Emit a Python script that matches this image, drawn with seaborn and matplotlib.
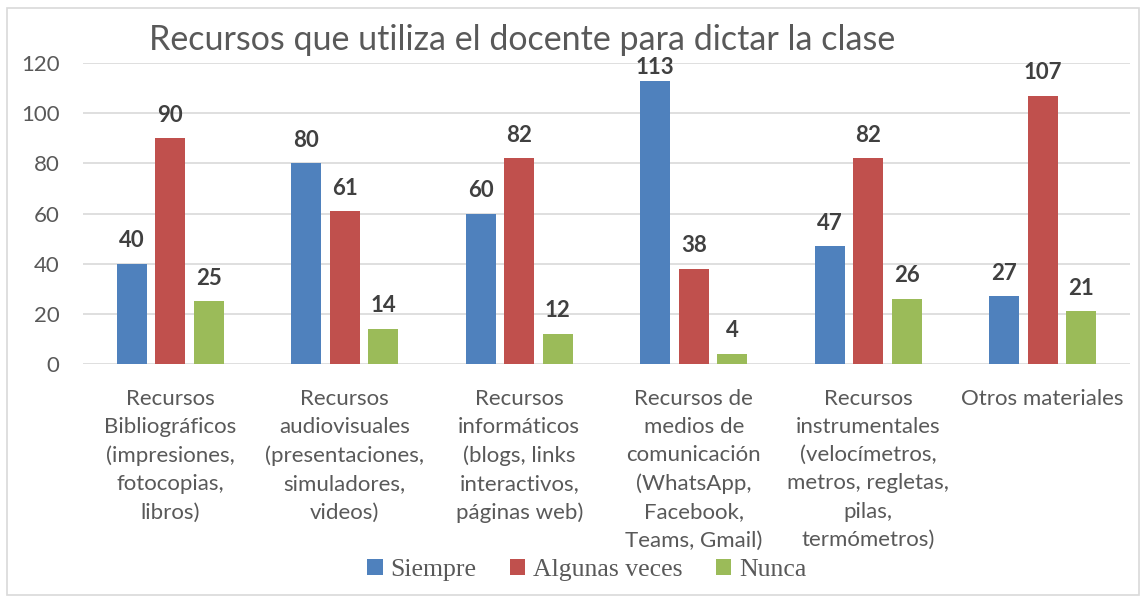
import pandas as pd
import matplotlib.pyplot as plt
import seaborn as sns
from matplotlib.patches import Rectangle

categorias = [
    "Recursos\nBibliográficos\n(impresiones,\nfotocopias,\nlibros)",
    "Recursos\naudiovisuales\n(presentaciones,\nsimuladores,\nvideos)",
    "Recursos\ninformáticos\n(blogs, links\ninteractivos,\npáginas web)",
    "Recursos de\nmedios de\ncomunicación\n(WhatsApp,\nFacebook,\nTeams, Gmail)",
    "Recursos\ninstrumentales\n(velocímetros,\nmetros, regletas,\npilas,\ntermómetros)",
    "Otros materiales",
]
series = ["Siempre", "Algunas veces", "Nunca"]
siempre = [40, 80, 60, 113, 47, 27]
algunas_veces = [90, 61, 82, 38, 82, 107]
nunca = [25, 14, 12, 4, 26, 21]
y_ticks = [0, 20, 40, 60, 80, 100, 120]

colores = ["#4F81BD", "#C0504D", "#9BBB59"]

df = pd.DataFrame({
    "categoria": categorias * 3,
    "serie": [series[0]] * 6 + [series[1]] * 6 + [series[2]] * 6,
    "valor": siempre + algunas_veces + nunca,
})

sns.set_theme(style="white")
plt.rcParams["font.family"] = ["Lato", "DejaVu Sans"]

fig = plt.figure(figsize=(11.46, 5.99), dpi=100)
ax = fig.add_axes([0.0724, 0.3923, 0.9136, 0.5025])

sns.barplot(data=df, x="categoria", y="valor", hue="serie", palette=colores,
            width=0.664, gap=0.22, ax=ax, saturation=1, edgecolor="none")

# etiquetas de valor encima de cada barra
for cont in ax.containers:
    textos = ax.bar_label(cont, padding=9, fontsize=16, fontweight="bold", color="#404040")
    for t, bar in zip(textos, cont):
        if bar.get_height() > 110:  # como en Excel, no sale del area del grafico
            t.xyann = (0, 2)

ax.set_ylim(0, 120)
ax.set_yticks(y_ticks)
ax.yaxis.grid(True, color="#D9D9D9", linewidth=1.2)
ax.set_axisbelow(True)
for s in ax.spines.values():
    s.set_visible(False)
ax.tick_params(axis="y", length=0, labelsize=16, labelcolor="#595959", pad=17)
ax.tick_params(axis="x", length=0, labelsize=16, labelcolor="#595959", pad=18)
ax.set_xlabel("")
ax.set_ylabel("")
for lbl in ax.get_xticklabels():
    lbl.set_linespacing(1.51)

handles, labels = ax.get_legend_handles_labels()
ax.get_legend().remove()
fig.legend(handles, labels, loc="center", bbox_to_anchor=(0.512, 0.048), ncol=3,
           frameon=False, prop={"family": "Liberation Serif", "size": 18.5},
           handlelength=0.6, handleheight=0.6, handletextpad=0.3,
           columnspacing=1.3, labelcolor="#595959")

fig.text(0.456, 0.933, "Recursos que utiliza el docente para dictar la clase",
         ha="center", va="center", fontsize=24.5, color="#595959")

fig.patches.append(Rectangle((0.006, 0.006), 0.988, 0.98, transform=fig.transFigure,
                             fill=False, edgecolor="#D9D9D9", linewidth=1.2))

fig.savefig("out.png", dpi=100)
